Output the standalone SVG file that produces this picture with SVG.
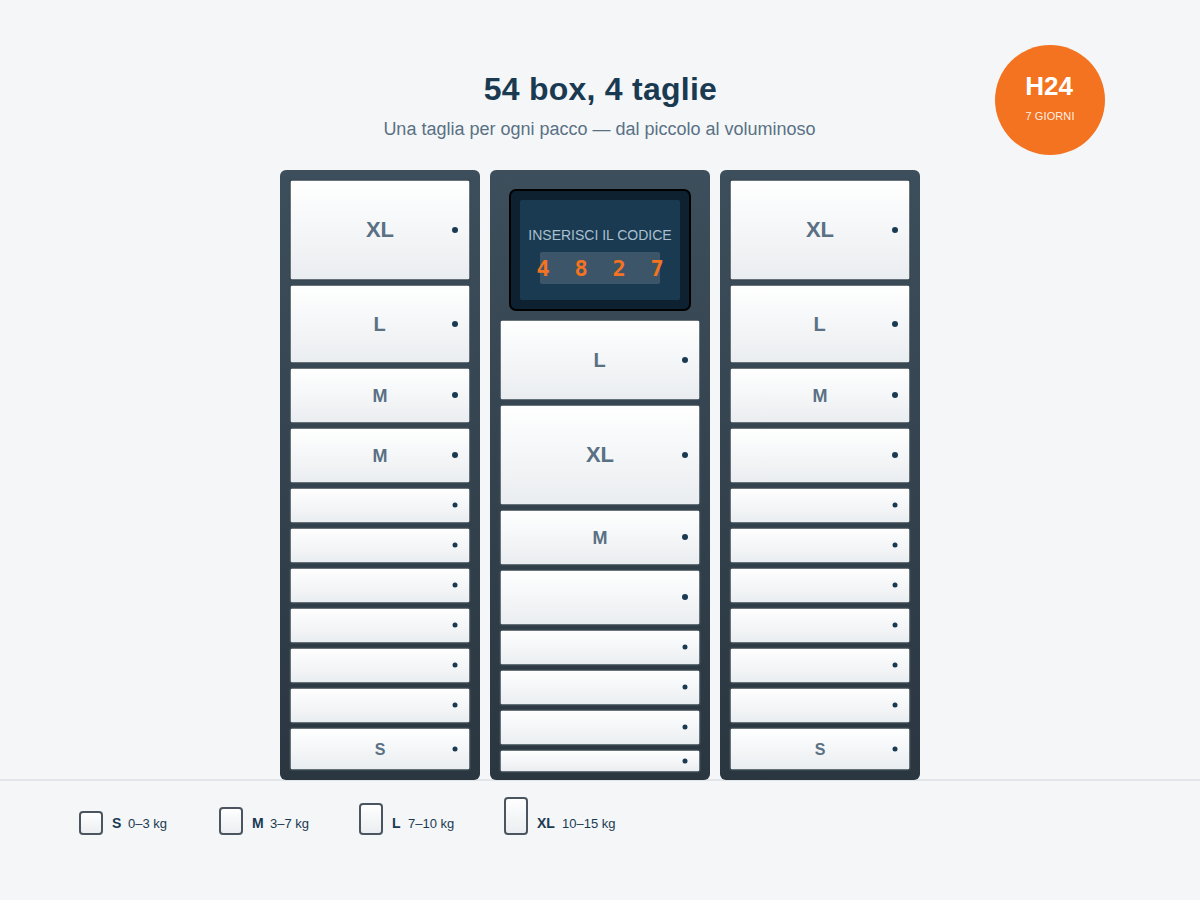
<svg xmlns="http://www.w3.org/2000/svg" width="1200" height="900" viewBox="0 0 1200 900">
<style>
.box{fill:url(#bx);stroke:#3a4852;stroke-width:1.5}
.dot{fill:#1a3a52}
.lb{font-family:"Liberation Sans",Arial,sans-serif;font-weight:700;fill:#5a7184;text-anchor:middle}
.lg{font-family:"Liberation Sans",Arial,sans-serif;font-size:13px;fill:#1a3a52}
.lg .b{font-weight:700;font-size:14px}
.lr{fill:url(#bx);stroke:#4a5560;stroke-width:2}
.col{fill:url(#cl)}
</style>
<defs>
<linearGradient id="bx" x1="0" y1="0" x2="0" y2="1"><stop offset="0" stop-color="#ffffff"/><stop offset="1" stop-color="#eaedf0"/></linearGradient>
<linearGradient id="cl" x1="0" y1="0" x2="0" y2="1"><stop offset="0" stop-color="#3d4f5c"/><stop offset="1" stop-color="#2a3640"/></linearGradient>
</defs>
<rect width="1200" height="900" fill="#f4f6f8"/>
<rect x="0" y="779" width="1200" height="2" fill="#e2e6ea"/>
<g id="title">
<text x="600.4" y="100" text-anchor="middle" font-family="Liberation Sans,Arial,sans-serif" font-size="32" font-weight="700" letter-spacing="0.25" fill="#1a3a52">54 box, 4 taglie</text>
<text x="599.5" y="135" text-anchor="middle" font-family="Liberation Sans,Arial,sans-serif" font-size="18" fill="#5a7184">Una taglia per ogni pacco — dal piccolo al voluminoso</text>
</g>
<g id="badge">
<circle cx="1050" cy="100" r="55" fill="#f47321"/>
<text x="1049" y="95" text-anchor="middle" font-family="Liberation Sans,Arial,sans-serif" font-size="26" font-weight="700" fill="#fff">H24</text>
<text x="1050" y="120" text-anchor="middle" font-family="Liberation Sans,Arial,sans-serif" font-size="11" letter-spacing="0.1" fill="#fff" fill-opacity=".9">7 GIORNI</text>
</g>
<g id="col-left">
<rect class="col" x="280" y="170" width="200" height="610" rx="6"/>
<g id="l1"><rect class="box" x="290" y="180" width="180" height="100" rx="2"/><text class="lb" x="380" y="237" font-size="22">XL</text><circle class="dot" cx="455" cy="230" r="3"/></g>
<g id="l2"><rect class="box" x="290" y="285" width="180" height="78" rx="2"/><text class="lb" x="379.5" y="331" font-size="20">L</text><circle class="dot" cx="455" cy="324" r="3"/></g>
<g id="l3"><rect class="box" x="290" y="368" width="180" height="55" rx="2"/><text class="lb" x="380" y="402" font-size="18">M</text><circle class="dot" cx="455" cy="395" r="3"/></g>
<g id="l4"><rect class="box" x="290" y="428" width="180" height="55" rx="2"/><text class="lb" x="380" y="462" font-size="18">M</text><circle class="dot" cx="455" cy="455" r="3"/></g>
<g id="l5"><rect class="box" x="290" y="488" width="180" height="35" rx="2"/><circle class="dot" cx="455" cy="505" r="2.5"/></g>
<g id="l6"><rect class="box" x="290" y="528" width="180" height="35" rx="2"/><circle class="dot" cx="455" cy="545" r="2.5"/></g>
<g id="l7"><rect class="box" x="290" y="568" width="180" height="35" rx="2"/><circle class="dot" cx="455" cy="585" r="2.5"/></g>
<g id="l8"><rect class="box" x="290" y="608" width="180" height="35" rx="2"/><circle class="dot" cx="455" cy="625" r="2.5"/></g>
<g id="l9"><rect class="box" x="290" y="648" width="180" height="35" rx="2"/><circle class="dot" cx="455" cy="665" r="2.5"/></g>
<g id="l10"><rect class="box" x="290" y="688" width="180" height="35" rx="2"/><circle class="dot" cx="455" cy="705" r="2.5"/></g>
<g id="l11"><rect class="box" x="290" y="728" width="180" height="42" rx="2"/><text class="lb" x="380" y="755" font-size="16">S</text><circle class="dot" cx="455" cy="749" r="2.5"/></g>
</g>
<g id="col-center">
<rect class="col" x="490" y="170" width="220" height="610" rx="6"/>
<g id="screen">
<rect x="510" y="190" width="180" height="120" rx="6" fill="#0d2130" stroke="#000" stroke-width="2"/>
<rect x="520" y="200" width="160" height="100" rx="2" fill="#1a3a52"/>
<text x="600" y="240" text-anchor="middle" font-family="Liberation Sans,Arial,sans-serif" font-size="14" fill="#a8c0d0">INSERISCI IL CODICE</text>
<rect x="540" y="252" width="120" height="32" rx="2" fill="#3d5568"/>
<text x="536.4" y="276" font-family="DejaVu Sans Mono,monospace" font-size="22" font-weight="700" letter-spacing="5.76" fill="#f47321" xml:space="preserve">4 8 2 7</text>
</g>
<g id="c1"><rect class="box" x="500" y="320" width="200" height="80" rx="2"/><text class="lb" x="599.5" y="367" font-size="20">L</text><circle class="dot" cx="685" cy="360" r="3"/></g>
<g id="c2"><rect class="box" x="500" y="405" width="200" height="100" rx="2"/><text class="lb" x="600" y="462" font-size="22">XL</text><circle class="dot" cx="685" cy="455" r="3"/></g>
<g id="c3"><rect class="box" x="500" y="510" width="200" height="55" rx="2"/><text class="lb" x="600" y="544" font-size="18">M</text><circle class="dot" cx="685" cy="537" r="3"/></g>
<g id="c4"><rect class="box" x="500" y="570" width="200" height="55" rx="2"/><circle class="dot" cx="685" cy="597" r="3"/></g>
<g id="c5"><rect class="box" x="500" y="630" width="200" height="35" rx="2"/><circle class="dot" cx="685" cy="647" r="2.5"/></g>
<g id="c6"><rect class="box" x="500" y="670" width="200" height="35" rx="2"/><circle class="dot" cx="685" cy="687" r="2.5"/></g>
<g id="c7"><rect class="box" x="500" y="710" width="200" height="35" rx="2"/><circle class="dot" cx="685" cy="727" r="2.5"/></g>
<g id="c8"><rect class="box" x="500" y="750" width="200" height="22" rx="2"/><circle class="dot" cx="685" cy="761" r="2.5"/></g>
</g>
<g id="col-right">
<rect class="col" x="720" y="170" width="200" height="610" rx="6"/>
<g id="r1"><rect class="box" x="730" y="180" width="180" height="100" rx="2"/><text class="lb" x="820" y="237" font-size="22">XL</text><circle class="dot" cx="895" cy="230" r="3"/></g>
<g id="r2"><rect class="box" x="730" y="285" width="180" height="78" rx="2"/><text class="lb" x="819.5" y="331" font-size="20">L</text><circle class="dot" cx="895" cy="324" r="3"/></g>
<g id="r3"><rect class="box" x="730" y="368" width="180" height="55" rx="2"/><text class="lb" x="820" y="402" font-size="18">M</text><circle class="dot" cx="895" cy="395" r="3"/></g>
<g id="r4"><rect class="box" x="730" y="428" width="180" height="55" rx="2"/><circle class="dot" cx="895" cy="455" r="3"/></g>
<g id="r5"><rect class="box" x="730" y="488" width="180" height="35" rx="2"/><circle class="dot" cx="895" cy="505" r="2.5"/></g>
<g id="r6"><rect class="box" x="730" y="528" width="180" height="35" rx="2"/><circle class="dot" cx="895" cy="545" r="2.5"/></g>
<g id="r7"><rect class="box" x="730" y="568" width="180" height="35" rx="2"/><circle class="dot" cx="895" cy="585" r="2.5"/></g>
<g id="r8"><rect class="box" x="730" y="608" width="180" height="35" rx="2"/><circle class="dot" cx="895" cy="625" r="2.5"/></g>
<g id="r9"><rect class="box" x="730" y="648" width="180" height="35" rx="2"/><circle class="dot" cx="895" cy="665" r="2.5"/></g>
<g id="r10"><rect class="box" x="730" y="688" width="180" height="35" rx="2"/><circle class="dot" cx="895" cy="705" r="2.5"/></g>
<g id="r11"><rect class="box" x="730" y="728" width="180" height="42" rx="2"/><text class="lb" x="820" y="755" font-size="16">S</text><circle class="dot" cx="895" cy="749" r="2.5"/></g>
</g>
<g id="legend">
<g id="leg-s"><rect class="lr" x="80" y="812" width="22" height="22" rx="3"/><text class="lg" x="112" y="828"><tspan class="b">S</tspan></text><text class="lg" x="128" y="828">0–3 kg</text></g>
<g id="leg-m"><rect class="lr" x="220" y="808" width="22" height="26" rx="3"/><text class="lg" x="252" y="828"><tspan class="b">M</tspan></text><text class="lg" x="270" y="828">3–7 kg</text></g>
<g id="leg-l"><rect class="lr" x="360" y="804" width="22" height="30" rx="3"/><text class="lg" x="392" y="828"><tspan class="b">L</tspan></text><text class="lg" x="408" y="828">7–10 kg</text></g>
<g id="leg-xl"><rect class="lr" x="505" y="798" width="22" height="36" rx="3"/><text class="lg" x="537" y="828"><tspan class="b">XL</tspan></text><text class="lg" x="562" y="828">10–15 kg</text></g>
</g>
</svg>
